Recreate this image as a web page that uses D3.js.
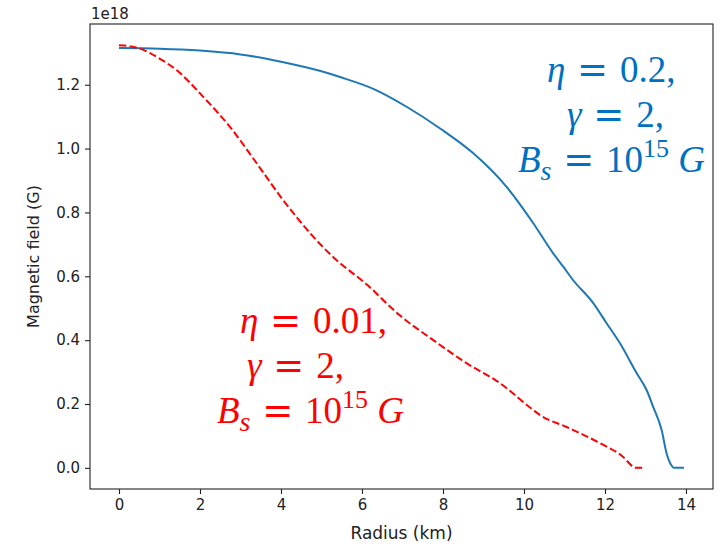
<!DOCTYPE html>
<html>
<head>
<meta charset="utf-8">
<script src="https://cdn.jsdelivr.net/npm/d3@7"></script>
<style>
  body { margin: 0; background: #fff; }
  svg { display: block; }
  .tick text { font-family: "DejaVu Sans", sans-serif; font-size: 15px; fill: #222; }
  .note { font-family: "Liberation Serif", serif; font-size: 37px; }
  .eq { font-family: "DejaVu Sans", sans-serif; }
</style>
</head>
<body>
<svg id="chart"></svg>
<script>
// blue solid curve (eta = 0.2)
const radiusBlue = [0, 1, 2, 3, 4, 5, 5.46, 6.28, 7.1, 7.93, 8.75, 9.57, 10.23, 10.72, 10.97, 11.2, 11.71, 12.04, 12.37, 12.78, 13.03, 13.19, 13.4, 13.52, 13.64, 13.7, 13.95];
const fieldBlue = [1.315, 1.313, 1.307, 1.295, 1.272, 1.242, 1.224, 1.187, 1.131, 1.063, 0.985, 0.88, 0.766, 0.672, 0.63, 0.59, 0.516, 0.453, 0.39, 0.297, 0.243, 0.191, 0.118, 0.046, 0.008, 0, 0];
// red dashed curve (eta = 0.01)
const radiusRed = [0, 0.3, 0.6, 1.0, 1.42, 2.08, 2.74, 3.4, 4.05, 4.72, 5.28, 6.11, 6.94, 7.76, 8.58, 9.41, 10.23, 10.4, 11.05, 11.88, 12.45, 12.7, 12.75, 12.98];
const fieldRed = [1.324, 1.32, 1.309, 1.282, 1.246, 1.162, 1.068, 0.954, 0.839, 0.735, 0.661, 0.575, 0.477, 0.4, 0.328, 0.265, 0.181, 0.165, 0.128, 0.077, 0.034, 0.003, 0, 0];

const xTicks = [0, 2, 4, 6, 8, 10, 12, 14];
const yTicks = [0, 0.2, 0.4, 0.6, 0.8, 1.0, 1.2];

const width = 723;
const height = 546;
const plotLeft = 90, plotRight = 713, plotTop = 24, plotBottom = 489;

const svg = d3.select("#chart")
  .attr("width", width)
  .attr("height", height);

const xScale = d3.scaleLinear().domain([-0.716, 14.667]).range([plotLeft, plotRight]);
const yScale = d3.scaleLinear().domain([-0.0662, 1.3902]).range([plotBottom, plotTop]);

//axes
const xAxis = d3.axisBottom(xScale)
  .tickValues(xTicks)
  .tickFormat(d3.format("d"))
  .tickSizeInner(5)
  .tickSizeOuter(0)
  .tickPadding(5);
const yAxis = d3.axisLeft(yScale)
  .tickValues(yTicks)
  .tickFormat(d3.format(".1f"))
  .tickSizeInner(5)
  .tickSizeOuter(0)
  .tickPadding(5);

const gx = svg.append("g")
  .attr("transform", `translate(0, ${plotBottom})`)
  .call(xAxis);
const gy = svg.append("g")
  .attr("transform", `translate(${plotLeft}, 0)`)
  .call(yAxis);
gx.select(".domain").remove();
gy.select(".domain").remove();
svg.selectAll(".tick line").attr("stroke", "#222").attr("stroke-width", 1.1);

//lines
const line = d3.line()
  .x((d) => xScale(d[0]))
  .y((d) => yScale(d[1]))
  .curve(d3.curveMonotoneX);

svg.append("path")
  .datum(d3.zip(radiusBlue, fieldBlue))
  .attr("d", line)
  .attr("fill", "none")
  .attr("stroke", "#1f77b4")
  .attr("stroke-width", 2);

svg.append("path")
  .datum(d3.zip(radiusRed, fieldRed))
  .attr("d", line)
  .attr("fill", "none")
  .attr("stroke", "#ff0000")
  .attr("stroke-width", 2)
  .attr("stroke-dasharray", "7.4,3.2");

//frame
svg.append("rect")
  .attr("x", plotLeft)
  .attr("y", plotTop)
  .attr("width", plotRight - plotLeft)
  .attr("height", plotBottom - plotTop)
  .attr("fill", "none")
  .attr("stroke", "#222")
  .attr("stroke-width", 1.1);

//labels
svg.append("text")
  .attr("x", (plotLeft + plotRight) / 2)
  .attr("y", 539)
  .attr("text-anchor", "middle")
  .style("font-family", "DejaVu Sans, sans-serif")
  .style("font-size", "17px")
  .style("fill", "#222")
  .text("Radius (km)");

svg.append("text")
  .attr("transform", `translate(39, ${(plotTop + plotBottom) / 2}) rotate(-90)`)
  .attr("text-anchor", "middle")
  .style("font-family", "DejaVu Sans, sans-serif")
  .style("font-size", "16px")
  .style("fill", "#222")
  .text("Magnetic field (G)");

svg.append("text")
  .attr("x", plotLeft + 1)
  .attr("y", 19)
  .style("font-family", "DejaVu Sans, sans-serif")
  .style("font-size", "15px")
  .style("fill", "#222")
  .text("1e18");

//annotations
function writeNote(color, x0, lines) {
  lines.forEach((ln, i) => {
    const t = svg.append("text")
      .attr("class", "note")
      .attr("x", x0[i])
      .attr("y", ln.y)
      .attr("xml:space", "preserve")
      .style("fill", color);
    ln.parts.forEach((p) => {
      const s = t.append("tspan").text(p.t);
      if (p.i) s.style("font-style", "italic");
      if (p.eq) s.attr("class", "eq");
      if (p.dy) s.attr("dy", p.dy);
      if (p.fs) s.style("font-size", p.fs);
    });
  });
}

function noteLines(eta, y1) {
  return [
    { y: y1, parts: [{ t: "η", i: true }, { t: " = ", eq: true }, { t: eta + "," }] },
    { y: y1 + 45, parts: [{ t: "γ", i: true }, { t: " = ", eq: true }, { t: "2," }] },
    { y: y1 + 90, parts: [
      { t: "B", i: true },
      { t: "s", i: true, dy: 8, fs: "28px" },
      { t: " = ", eq: true, dy: -8 },
      { t: "10" },
      { t: "15", dy: -15, fs: "26px" },
      { t: " G", i: true, dy: 15 }
    ] }
  ];
}

writeNote("#0070c0", [547, 567, 518], noteLines("0.2", 82));
writeNote("#ff0000", [240, 247, 217], noteLines("0.01", 333));
</script>
</body>
</html>
